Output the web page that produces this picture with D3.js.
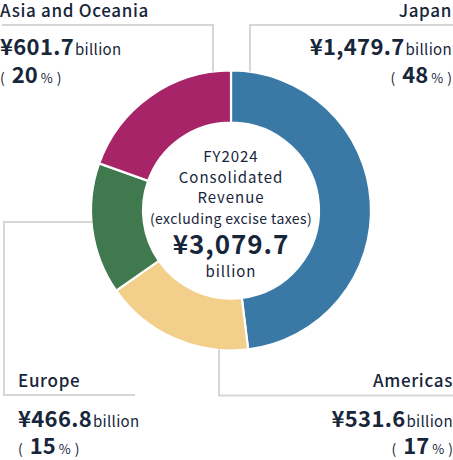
<!DOCTYPE html>
<html>
<head>
<meta charset="utf-8">
<script src="https://cdn.jsdelivr.net/npm/d3@7"></script>
<style>
  body { margin: 0; background: #fff; }
  svg text { font-family: "Noto Sans CJK JP", "Noto Sans", sans-serif; fill: #17263a; }
</style>
</head>
<body>
<div id="chart"></div>
<script>
// Chart data
var regions = ["Japan", "Americas", "Europe", "Asia and Oceania"];
var revenue = [1479.7, 531.6, 466.8, 601.7];
var valueLabels = ["¥1,479.7", "¥531.6", "¥466.8", "¥601.7"];
var shareLabels = ["48", "17", "15", "20"];
var colors = ["#3a79a6", "#f2cf8b", "#3f794d", "#a82468"];
var totalLabel = "¥3,079.7";
var centerLines = ["FY2024", "Consolidated", "Revenue", "(excluding excise taxes)"];

// SVG area
var svgWidth = 453;
var svgHeight = 460;

var svg = d3.select("#chart")
    .append("svg")
    .attr("width", svgWidth)
    .attr("height", svgHeight);

// Donut geometry
var cx = 231, cy = 210.5;
var outerR = 140, innerR = 88;

var pie = d3.pie()
    .sort(null)
    .value(d => d);

var arc = d3.arc()
    .innerRadius(innerR)
    .outerRadius(outerR);

var donut = svg.append("g")
    .attr("transform", `translate(${cx}, ${cy})`);

donut.selectAll("path")
    .data(pie(revenue))
    .enter()
    .append("path")
    .attr("d", arc)
    .attr("fill", (d, i) => colors[i])
    .attr("stroke", "#fff")
    .attr("stroke-width", 2.2);

// Leader lines (light grey elbows)
var lineColor = "#d6d6d6";
var leaders = [
    [[cx + 19, cy - outerR + 1], [cx + 19, 25], [svgWidth, 25]],
    [[cx - 12, cy + outerR - 1], [cx - 12, 395.5], [svgWidth, 395.5]],
    [[cx - outerR + 1, 222], [4, 222], [4, 395], [135, 395]],
    [[cx - 18, cy - outerR + 1], [cx - 18, 25], [2, 25]]
];

svg.selectAll(".leader")
    .data(leaders)
    .enter()
    .append("path")
    .attr("class", "leader")
    .attr("d", d3.line())
    .attr("fill", "none")
    .attr("stroke", lineColor)
    .attr("stroke-width", 2);

// Region label blocks
var labelPos = [
    { x: 452, anchor: "end", y: [17, 55, 83] },
    { x: 453, anchor: "end", y: [387, 427, 454] },
    { x: 18, anchor: "start", y: [387, 427, 454] },
    { x: 0, anchor: "start", y: [17, 55, 83] }
];

regions.forEach(function (name, i) {
    var p = labelPos[i];
    var g = svg.append("g").attr("text-anchor", p.anchor);

    g.append("text")
        .attr("x", p.x)
        .attr("y", p.y[0])
        .style("font-size", "17px")
        .style("font-weight", 500)
        .style("letter-spacing", "0.04em")
        .text(name);

    var v = g.append("text")
        .attr("x", p.x)
        .attr("y", p.y[1])
        .style("letter-spacing", "0.02em");
    v.append("tspan")
        .style("font-size", "22px")
        .style("font-weight", 700)
        .text(valueLabels[i]);
    v.append("tspan")
        .attr("dx", 1)
        .style("font-size", "15px")
        .text("billion");

    var s = g.append("text")
        .attr("x", p.x)
        .attr("y", p.y[2]);
    s.append("tspan")
        .style("font-size", "14px")
        .text("(");
    s.append("tspan")
        .attr("dx", 7)
        .style("font-size", "22px")
        .style("font-weight", 700)
        .text(shareLabels[i]);
    s.append("tspan")
        .attr("dx", 3)
        .style("font-size", "13px")
        .text("%");
    s.append("tspan")
        .attr("dx", 4)
        .style("font-size", "14px")
        .text(")");
});

// Centre text
var center = svg.append("g")
    .attr("text-anchor", "middle")
    .style("letter-spacing", "0.06em");
var centerY = [162, 183, 203, 224];
centerLines.forEach(function (t, i) {
    center.append("text")
        .attr("x", cx)
        .attr("y", centerY[i])
        .style("font-size", i === 3 ? "14px" : "15px")
        .style("letter-spacing", i === 3 ? "0.03em" : null)
        .text(t);
});
center.append("text")
    .attr("x", cx)
    .attr("y", 254)
    .style("font-size", "26px")
    .style("font-weight", 700)
    .text(totalLabel);
center.append("text")
    .attr("x", cx)
    .attr("y", 277)
    .style("font-size", "15px")
    .text("billion");
</script>
</body>
</html>
